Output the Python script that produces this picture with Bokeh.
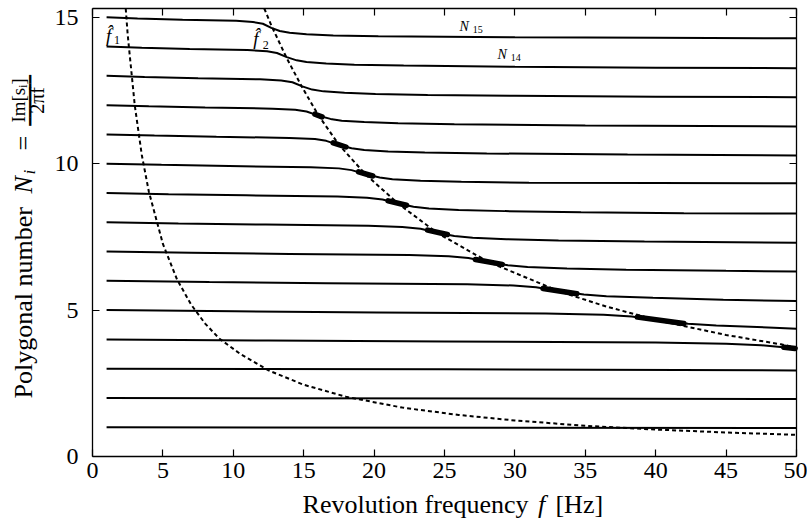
import math
from bokeh.plotting import figure
from bokeh.models import Range1d, LinearAxis, FixedTicker, Label
from bokeh.embed import file_html
from bokeh.resources import INLINE

# ---------------- data ----------------
X_TICKS = [0, 5, 10, 15, 20, 25, 30, 35, 40, 45, 50]
Y_TICKS = [0, 5, 10, 15]
X_MIN, X_MAX = 0, 50
Y_MIN, Y_MAX = 0, 15.3

N15_F = [1, 3.2, 6.4, 10.2, 11.4, 12.1, 12.7, 13.3, 14.0, 15.2, 17.1, 20.3, 30, 40, 50]
N15_N = [15.0, 14.96, 14.92, 14.88, 14.84, 14.78, 14.64, 14.53, 14.47, 14.42, 14.38, 14.35, 14.32, 14.3, 14.28]
N14_F = [1, 3.5, 6.9, 11.0, 12.4, 13.1, 13.8, 14.5, 15.2, 16.6, 18.6, 22.1, 30, 40, 50]
N14_N = [14.0, 13.96, 13.92, 13.88, 13.84, 13.78, 13.64, 13.53, 13.47, 13.42, 13.38, 13.35, 13.31, 13.28, 13.26]
N13_F = [1, 3.7, 7.5, 11.9, 13.4, 14.2, 14.9, 15.6, 16.4, 17.9, 20.1, 23.8, 30, 40, 50]
N13_N = [13.0, 12.96, 12.92, 12.88, 12.84, 12.78, 12.64, 12.53, 12.47, 12.42, 12.38, 12.35, 12.32, 12.29, 12.27]
N12_F = [1, 4.0, 8.0, 12.8, 14.4, 15.2, 16.05, 16.9, 17.7, 19.3, 21.7, 25.7, 35, 50]
N12_N = [12.0, 11.96, 11.92, 11.88, 11.84, 11.78, 11.64, 11.53, 11.47, 11.42, 11.38, 11.35, 11.3, 11.27]
N11_F = [1, 4.4, 8.8, 14.0, 15.8, 16.6, 17.5, 18.4, 19.3, 21.0, 23.6, 28.0, 38, 50]
N11_N = [11.0, 10.96, 10.92, 10.88, 10.84, 10.78, 10.64, 10.53, 10.47, 10.42, 10.38, 10.35, 10.31, 10.28]
N10_F = [1, 4.9, 9.7, 15.5, 17.5, 18.4, 19.4, 20.4, 21.3, 23.3, 26.2, 31.0, 40, 50]
N10_N = [10.0, 9.96, 9.92, 9.88, 9.84, 9.78, 9.64, 9.53, 9.47, 9.42, 9.38, 9.35, 9.34, 9.33]
N9_F = [1, 5.4, 10.9, 17.4, 19.5, 20.6, 21.7, 22.8, 23.9, 26.0, 29.3, 34.7, 42, 50]
N9_N = [9.0, 8.96, 8.92, 8.88, 8.84, 8.78, 8.64, 8.53, 8.47, 8.42, 8.38, 8.34, 8.31, 8.3]
N8_F = [1, 6.1, 12.3, 19.6, 22.0, 23.3, 24.5, 25.7, 27.0, 29.4, 33.1, 39.2, 50]
N8_N = [8.0, 7.96, 7.92, 7.88, 7.84, 7.78, 7.64, 7.53, 7.47, 7.42, 7.38, 7.34, 7.3]
N7_F = [1, 7.0, 14.0, 22.5, 25.3, 26.7, 28.1, 29.5, 30.9, 33.7, 37.9, 45.0, 50]
N7_N = [7.0, 6.96, 6.92, 6.88, 6.84, 6.78, 6.64, 6.53, 6.47, 6.42, 6.38, 6.34, 6.32]
N6_F = [1, 8.3, 16.6, 26.6, 29.9, 31.5, 33.2, 34.9, 36.5, 39.8, 44.8, 50]
N6_N = [6.0, 5.96, 5.92, 5.88, 5.84, 5.78, 5.64, 5.53, 5.47, 5.42, 5.35, 5.31]
N5_F = [1, 10.1, 20.2, 32.2, 36.3, 38.3, 40.3, 42.3, 44.3, 48.4, 50]
N5_N = [5.0, 4.96, 4.92, 4.88, 4.84, 4.78, 4.64, 4.53, 4.47, 4.40, 4.36]
N4_F = [1, 12.5, 25, 40, 45, 47.5, 50]
N4_N = [4.0, 3.96, 3.93, 3.89, 3.85, 3.8, 3.69]
N3_F = [1, 25, 50]
N3_N = [3.0, 2.98, 2.94]
N2_F = [1, 50]
N2_N = [2.0, 1.96]
N1_F = [1, 50]
N1_N = [1.0, 0.97]

# thick marked stretches on the curves
BLOB_F0 = [15.8, 17.1, 18.9, 21.0, 23.8, 27.2, 32.0, 38.7, 49.1]
BLOB_F1 = [16.3, 18.0, 19.9, 22.3, 25.2, 29.1, 34.4, 42.0, 49.9]
BLOB_N0 = [11.69, 10.71, 9.72, 8.73, 7.73, 6.73, 5.74, 4.76, 3.73]
BLOB_N1 = [11.60, 10.57, 9.58, 8.58, 7.58, 6.56, 5.56, 4.54, 3.69]

# dashed curves f1-hat and f2-hat (from the top edge of the box)
F1_F = [2.36, 2.5, 3.0, 3.5, 4.0, 5.0, 6.0, 7.0, 8.0, 9.0, 10.5, 12.5, 15, 18, 22, 26, 30, 35, 40, 45, 50]
F1_N = [15.3, 14.4, 12.0, 10.3, 9.05, 7.26, 6.05, 5.19, 4.54, 4.03, 3.5, 2.94, 2.45, 2.04, 1.67, 1.42, 1.23, 1.05, 0.92, 0.82, 0.74]
F2_F = [12.2, 12.7, 13.8, 14.9, 16.05, 17.5, 19.4, 21.7, 24.5, 28.1, 33.2, 36.5, 40.3, 45.0, 48.9, 50.0]
F2_N = [15.3, 14.72, 13.6, 12.6, 11.65, 10.65, 9.63, 8.64, 7.63, 6.65, 5.63, 5.12, 4.63, 4.15, 3.83, 3.72]

CURVES = [(N1_F, N1_N), (N2_F, N2_N), (N3_F, N3_N), (N4_F, N4_N), (N5_F, N5_N),
          (N6_F, N6_N), (N7_F, N7_N), (N8_F, N8_N), (N9_F, N9_N), (N10_F, N10_N),
          (N11_F, N11_N), (N12_F, N12_N), (N13_F, N13_N), (N14_F, N14_N), (N15_F, N15_N)]

SERIF = "Liberation Serif"

# ---------------- figure ----------------
# the frame spans the whole canvas; the axes are drawn at fixed data locations
# so that the box is 92..796 px wide and 8..456 px tall
PX_X = 704 / 50.0
PX_Y = 448 / 15.3
p = figure(width=807, height=525,
           x_range=Range1d(-92 / PX_X, 50 + 11 / PX_X),
           y_range=Range1d(-69 / PX_Y, 15.3 + 8 / PX_Y),
           x_axis_location=None, y_axis_location=None,
           output_backend="svg", toolbar_location=None, min_border=0)
p.background_fill_color = "white"
p.border_fill_color = "white"
p.outline_line_color = None
p.grid.visible = False


def make_axis(ticks, loc, bounds, show_labels, standoff):
    ax = LinearAxis(fixed_location=loc, bounds=bounds)
    ax.ticker = FixedTicker(ticks=ticks)
    ax.axis_line_color = "black"
    ax.axis_line_width = 1.3
    ax.major_tick_in = 7
    ax.major_tick_out = 0
    ax.major_tick_line_width = 1.2
    ax.major_tick_line_color = "black"
    ax.minor_tick_line_color = None
    ax.major_label_text_font = SERIF
    ax.major_label_text_font_size = "24px"
    ax.major_label_text_color = "black"
    ax.major_label_standoff = standoff
    if not show_labels:
        ax.major_label_overrides = {t: "" for t in ticks}
    return ax


p.add_layout(make_axis(X_TICKS, Y_MIN, (X_MIN, X_MAX), True, 6), "below")
p.add_layout(make_axis(Y_TICKS, X_MIN, (Y_MIN, Y_MAX), True, 14), "left")
p.add_layout(make_axis(X_TICKS, Y_MAX, (X_MIN, X_MAX), False, 0), "above")
p.add_layout(make_axis(Y_TICKS, X_MAX, (Y_MIN, Y_MAX), False, 0), "right")

# curves
for fx, ny in CURVES:
    p.line(fx, ny, line_color="black", line_width=2)

p.segment(BLOB_F0, BLOB_N0, BLOB_F1, BLOB_N1, line_color="black", line_width=5.5, line_cap="round")

p.line(F1_F, F1_N, line_color="black", line_width=2, line_dash="4 3")
p.line(F2_F, F2_N, line_color="black", line_width=2, line_dash="4 3")


def lab(x, y, text, size, style="italic", angle=0, align="left",
        baseline="alphabetic", font=SERIF):
    p.add_layout(Label(x=x, y=y, text=text, angle=angle,
                       text_font=font, text_font_size=size, text_font_style=style,
                       text_color="black", text_align=align, text_baseline=baseline))


# in-plot labels: f-hat 1, f-hat 2, N15, N14
lab(0.95, 14.39, "f\u0302", "19px")
lab(1.52, 14.21, "1", "12px", style="normal")
lab(11.42, 14.29, "f\u0302", "19px")
lab(12.1, 14.07, "2", "12px", style="normal")
lab(26.07, 14.68, "N", "14px")
lab(27.0, 14.57, "15", "10px", style="normal")
lab(28.76, 13.73, "N", "14px")
lab(29.7, 13.61, "14", "10px", style="normal")

# x-axis label (pieces so that f is italic)
lab(30.97, -1.64, "Revolution frequency", "26px", style="normal", align="right")
lab(31.89, -1.64, "f", "26px", style="italic", align="center")
lab(32.88, -1.64, "[Hz]", "26px", style="normal", align="left")

# y-axis label built from pieces (rotated)
A = math.pi / 2
lab(-4.91, 1.98, "Polygonal number", "26px", style="normal", angle=A)
lab(-4.91, 8.98, "N", "26px", style="italic", angle=A)
lab(-4.47, 9.63, "i", "17px", style="italic", angle=A)
lab(-4.91, 10.45, "=", "26px", style="normal", angle=A)
lab(-5.23, 12.16, "Im[s\u1d62]", "19px", style="normal", angle=A, align="center")
lab(-3.91, 12.16, "2\u03c0f", "20px", style="normal", angle=A, align="center")
lab(-4.44, 12.16, "\u2501\u2501\u2501\u2501\u2501\u2501", "14px", style="normal", angle=A,
    align="center", baseline="middle", font="DejaVu Sans Mono")

open("out.html", "w").write(file_html(p, INLINE))
